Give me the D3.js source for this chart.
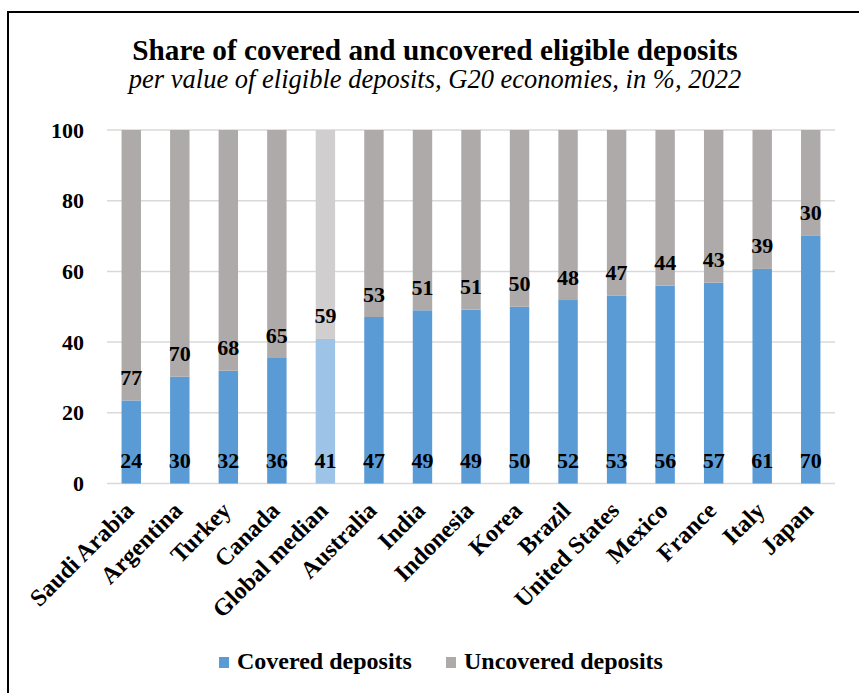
<!DOCTYPE html>
<html>
<head>
<meta charset="utf-8">
<script src="https://cdn.jsdelivr.net/npm/d3@7"></script>
<style>
  body { margin: 0; background: #fff; }
  svg text { font-family: "Liberation Serif", "Times New Roman", serif; }
</style>
</head>
<body>
<div id="chart"></div>
<script>
// data
var countries = ["Saudi Arabia", "Argentina", "Turkey", "Canada", "Global median", "Australia",
  "India", "Indonesia", "Korea", "Brazil", "United States", "Mexico", "France", "Italy", "Japan"];
var covered = [23.5, 30.2, 31.9, 35.5, 40.9, 47.1, 49.0, 49.2, 50.0, 51.9, 53.1, 56.0, 56.8, 60.7, 70.2];
var uncovered = [76.5, 69.8, 68.1, 64.5, 59.1, 52.9, 51.0, 50.8, 50.0, 48.1, 46.9, 44.0, 43.2, 39.3, 29.8];
var yTicks = [0, 20, 40, 60, 80, 100];
var seriesNames = ["Covered deposits", "Uncovered deposits"];

var svgWidth = 859, svgHeight = 693;

var svg = d3.select("#chart").append("svg")
  .attr("width", svgWidth)
  .attr("height", svgHeight)
  .attr("font-family", "Liberation Serif, serif");

// outer frame
svg.append("rect")
  .attr("x", 8).attr("y", 12)
  .attr("width", 862).attr("height", 700)
  .attr("fill", "none")
  .attr("stroke", "#000")
  .attr("stroke-width", 2);

// titles
svg.append("text")
  .attr("x", 435).attr("y", 60)
  .attr("text-anchor", "middle")
  .attr("font-size", "29.3px")
  .attr("font-weight", "bold")
  .text("Share of covered and uncovered eligible deposits");

svg.append("text")
  .attr("x", 435).attr("y", 88)
  .attr("text-anchor", "middle")
  .attr("font-size", "26.5px")
  .attr("font-style", "italic")
  .text("per value of eligible deposits, G20 economies, in %, 2022");

// scales
var xScale = d3.scaleBand()
  .domain(countries)
  .range([107, 835])
  .paddingInner(0.6)
  .paddingOuter(0.3);

var yScale = d3.scaleLinear()
  .domain([0, 100])
  .range([483.5, 130]);

// gridlines
svg.append("g")
  .selectAll("line")
  .data(yTicks)
  .enter()
  .append("line")
  .attr("x1", 107).attr("x2", 835)
  .attr("y1", d => yScale(d)).attr("y2", d => yScale(d))
  .attr("stroke", "#d9d9d9")
  .attr("stroke-width", 1.5);

// y axis labels
var yAxis = d3.axisLeft(yScale).tickValues(yTicks).tickSize(0).tickPadding(0);
var yAxisG = svg.append("g")
  .attr("transform", "translate(84, 0)")
  .call(yAxis);
yAxisG.select(".domain").remove();
yAxisG.attr("font-family", null).attr("font-size", null);
yAxisG.selectAll("text")
  .attr("font-size", "22px")
  .attr("font-weight", "bold")
  .attr("fill", "#000");

// bars
var rows = countries.map((c, i) => ({ name: c, covered: covered[i], uncovered: uncovered[i], median: c === "Global median" }));

var barsG = svg.append("g");
barsG.selectAll("rect.cov")
  .data(rows)
  .enter()
  .append("rect")
  .attr("class", "cov")
  .attr("x", d => xScale(d.name))
  .attr("width", xScale.bandwidth())
  .attr("y", d => yScale(d.covered))
  .attr("height", d => yScale(0) - yScale(d.covered))
  .attr("fill", d => d.median ? "#9dc3e6" : "#5b9bd5");

barsG.selectAll("rect.unc")
  .data(rows)
  .enter()
  .append("rect")
  .attr("class", "unc")
  .attr("x", d => xScale(d.name))
  .attr("width", xScale.bandwidth())
  .attr("y", d => yScale(d.covered + d.uncovered))
  .attr("height", d => yScale(d.covered) - yScale(d.covered + d.uncovered))
  .attr("fill", d => d.median ? "#d0cece" : "#aeaaaa");

// value labels
barsG.selectAll("text.covLabel")
  .data(rows)
  .enter()
  .append("text")
  .attr("x", d => xScale(d.name) + xScale.bandwidth() / 2)
  .attr("y", yScale(0) - 15.5)
  .attr("text-anchor", "middle")
  .attr("font-size", "22px")
  .attr("font-weight", "bold")
  .text(d => Math.round(d.covered));

barsG.selectAll("text.uncLabel")
  .data(rows)
  .enter()
  .append("text")
  .attr("x", d => xScale(d.name) + xScale.bandwidth() / 2)
  .attr("y", d => yScale(d.covered) - 15.5)
  .attr("text-anchor", "middle")
  .attr("font-size", "22px")
  .attr("font-weight", "bold")
  .text(d => Math.round(d.uncovered));

// x labels, rotated
svg.append("g")
  .selectAll("text")
  .data(countries)
  .enter()
  .append("text")
  .attr("transform", d => `translate(${xScale(d) + xScale.bandwidth() / 2 + 4}, 512) rotate(-45)`)
  .attr("text-anchor", "end")
  .attr("font-size", "24px")
  .attr("font-weight", "bold")
  .text(d => d);

// legend
var legendX = [219, 446];
var legendColors = ["#5b9bd5", "#aeaaaa"];
var legend = svg.append("g")
  .selectAll("g")
  .data(seriesNames)
  .enter()
  .append("g")
  .attr("transform", (d, i) => `translate(${legendX[i]}, 657)`);

legend.append("rect")
  .attr("width", 10).attr("height", 11)
  .attr("fill", (d, i) => legendColors[i]);

legend.append("text")
  .attr("x", 18).attr("y", 12)
  .attr("font-size", "24px")
  .attr("font-weight", "bold")
  .text(d => d);
</script>
</body>
</html>
